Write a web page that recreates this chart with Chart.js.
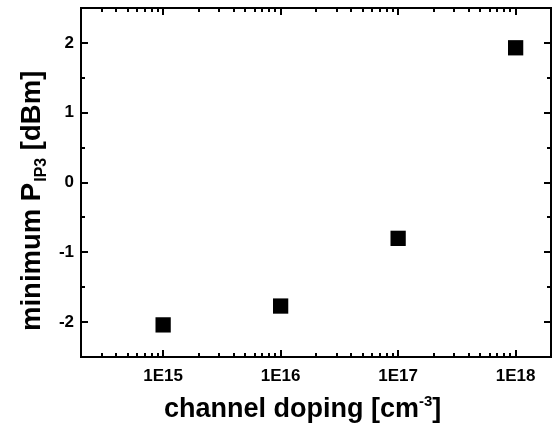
<!DOCTYPE html>
<html><head><meta charset="utf-8">
<script src="https://cdn.jsdelivr.net/npm/chart.js@4/dist/chart.umd.min.js"></script>
<style>html,body{margin:0;padding:0;background:#fff}#wrap{width:555px;height:428px;position:relative}</style>
</head><body><div id="wrap"><canvas id="c"></canvas></div>
<script>
const doping = [1e15, 1e16, 1e17, 1e18];
const minPIP3 = [-2.04, -1.77, -0.80, 1.93];
const xTickValues = [1e15, 1e16, 1e17, 1e18];
const xTickLabels = ['1E15', '1E16', '1E17', '1E18'];
const yTickValues = [-2, -1, 0, 1, 2];
const yTickLabels = ['-2', '-1', '0', '1', '2'];
const yMinorValues = [-1.5, -0.5, 0.5, 1.5];
const xMin = 2e14, xMax = 2e18, yMin = -2.5, yMax = 2.5;

const FONT = "'Liberation Sans', Arial, sans-serif";

const xMinorValues = [];
for (let e = 14; e <= 18; e++) {
  for (let m = 2; m <= 9; m++) {
    const v = m * Math.pow(10, e);
    if (v > xMin * 1.0001 && v < xMax * 0.9999) xMinorValues.push(v);
  }
}

function drawRich(ctx, segs, x, y, align) {
  let total = 0;
  segs.forEach(s => { ctx.font = 'bold ' + s.size + 'px ' + FONT; s.w = ctx.measureText(s.text).width; total += s.w; });
  let cx = align === 'center' ? x - total / 2 : x;
  segs.forEach(s => {
    ctx.font = 'bold ' + s.size + 'px ' + FONT;
    ctx.fillText(s.text, cx, y + (s.dy || 0));
    cx += s.w + (s.gap || 0);
  });
}

const framePlugin = {
  id: 'frame',
  afterDraw(chart) {
    const ctx = chart.ctx;
    const a = chart.chartArea;
    const xs = chart.scales.x, ys = chart.scales.y;
    ctx.save();
    ctx.strokeStyle = '#000';
    ctx.lineCap = 'butt';
    const majorLen = 7, minorLen = 4;
    ctx.lineWidth = 2;
    ctx.beginPath();
    xTickValues.forEach(v => {
      const px = Math.round(xs.getPixelForValue(v));
      ctx.moveTo(px, a.bottom); ctx.lineTo(px, a.bottom - majorLen);
      ctx.moveTo(px, a.top); ctx.lineTo(px, a.top + majorLen);
    });
    yTickValues.forEach(v => {
      const py = Math.round(ys.getPixelForValue(v));
      ctx.moveTo(a.left, py); ctx.lineTo(a.left + majorLen, py);
      ctx.moveTo(a.right, py); ctx.lineTo(a.right - majorLen, py);
    });
    ctx.stroke();
    ctx.beginPath();
    xMinorValues.forEach(v => {
      const px = Math.round(xs.getPixelForValue(v));
      ctx.moveTo(px, a.bottom); ctx.lineTo(px, a.bottom - minorLen);
      ctx.moveTo(px, a.top); ctx.lineTo(px, a.top + minorLen);
    });
    yMinorValues.forEach(v => {
      const py = Math.round(ys.getPixelForValue(v));
      ctx.moveTo(a.left, py); ctx.lineTo(a.left + minorLen, py);
      ctx.moveTo(a.right, py); ctx.lineTo(a.right - minorLen, py);
    });
    ctx.stroke();
    ctx.lineWidth = 2;
    ctx.strokeRect(a.left, a.top, a.right - a.left, a.bottom - a.top);
    ctx.fillStyle = '#000';
    ctx.textBaseline = 'alphabetic';
    ctx.textAlign = 'left';
    drawRich(ctx, [
      { text: 'channel doping [cm', size: 27 },
      { text: '-3', size: 15, dy: -11 },
      { text: ']', size: 27 }
    ], 164, 417, 'left');
    ctx.translate(40, 331);
    ctx.rotate(-Math.PI / 2);
    drawRich(ctx, [
      { text: 'minimum P', size: 27.5, gap: 1 },
      { text: 'IP3', size: 16, dy: 6 },
      { text: ' [dBm]', size: 27.5 }
    ], 0, 0, 'left');
    ctx.restore();
  }
};

new Chart(document.getElementById('c'), {
  type: 'scatter',
  data: {
    datasets: [{
      data: doping.map((x, i) => ({ x: x, y: minPIP3[i] })),
      pointStyle: 'rect',
      pointRadius: 10.8,
      pointHoverRadius: 10.8,
      backgroundColor: '#000',
      borderColor: '#000',
      borderWidth: 0
    }]
  },
  options: {
    responsive: true,
    maintainAspectRatio: false,
    animation: false,
    events: [],
    layout: { autoPadding: false, padding: { left: 0, right: 4, top: 8, bottom: 0 } },
    plugins: { legend: { display: false }, tooltip: { enabled: false } },
    scales: {
      x: {
        type: 'logarithmic',
        min: xMin, max: xMax,
        grid: { display: false, drawTicks: false },
        border: { display: false },
        afterBuildTicks: s => { s.ticks = xTickValues.map(v => ({ value: v })); },
        afterFit: s => { s.height = 71; s.paddingLeft = 0; s.paddingRight = 0; },
        ticks: {
          autoSkip: false, maxRotation: 0, padding: 9,
          color: '#000',
          font: { family: FONT, size: 17, weight: 'bold' },
          callback: (v) => { const i = xTickValues.indexOf(v); return i >= 0 ? xTickLabels[i] : ''; }
        }
      },
      y: {
        min: yMin, max: yMax,
        grid: { display: false, drawTicks: false },
        border: { display: false },
        afterBuildTicks: s => { s.ticks = yTickValues.map(v => ({ value: v })); },
        afterFit: s => { s.width = 81; s.paddingTop = 0; s.paddingBottom = 0; },
        ticks: {
          autoSkip: false, padding: 7,
          color: '#000',
          font: { family: FONT, size: 17, weight: 'bold' },
          callback: (v) => { const i = yTickValues.indexOf(v); return i >= 0 ? yTickLabels[i] : ''; }
        }
      }
    }
  },
  plugins: [framePlugin]
});
</script>
</body></html>
